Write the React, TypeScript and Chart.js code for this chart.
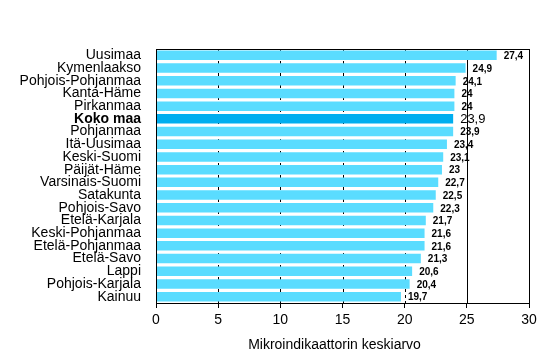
import React, { useEffect, useRef } from "react";
import { Chart, registerables } from "chart.js";

Chart.register(...registerables);

const categories = [
  "Uusimaa", "Kymenlaakso", "Pohjois-Pohjanmaa", "Kanta-Häme", "Pirkanmaa",
  "Koko maa", "Pohjanmaa", "Itä-Uusimaa", "Keski-Suomi", "Päijät-Häme",
  "Varsinais-Suomi", "Satakunta", "Pohjois-Savo", "Etelä-Karjala", "Keski-Pohjanmaa",
  "Etelä-Pohjanmaa", "Etelä-Savo", "Lappi", "Pohjois-Karjala", "Kainuu",
];
const values = [27.4, 24.9, 24.1, 24, 24, 23.9, 23.9, 23.4, 23.1, 23, 22.7, 22.5, 22.3, 21.7, 21.6, 21.6, 21.3, 20.6, 20.4, 19.7];
const xTicks = [0, 5, 10, 15, 20, 25, 30];
const dashedGrid = [5, 10, 15, 20];
const solidGrid = [25];
const highlight = "Koko maa";
const axisTitle = "Mikroindikaattorin keskiarvo";

const FONT = "'Liberation Sans', Arial, sans-serif";
const fmt = (v: number) => String(v).replace(".", ",");

export default function App() {
  const ref = useRef<HTMLCanvasElement>(null);
  useEffect(() => {
    document.body.style.margin = "0";
    const ctx = ref.current!.getContext("2d")!;
    const overlay = {
      id: "overlay",
      beforeDatasetsDraw(chart: any) {
        const { ctx, chartArea } = chart;
        const xs = chart.scales.x;
        ctx.save();
        ctx.strokeStyle = "#000";
        ctx.lineWidth = 1;
        ctx.setLineDash([3, 3]);
        dashedGrid.forEach((v) => {
          const x = Math.round(xs.getPixelForValue(v)) + 0.5;
          ctx.beginPath();
          ctx.moveTo(x, chartArea.top);
          ctx.lineTo(x, chartArea.bottom);
          ctx.stroke();
        });
        ctx.setLineDash([]);
        solidGrid.forEach((v) => {
          const x = Math.round(xs.getPixelForValue(v)) + 0.5;
          ctx.beginPath();
          ctx.moveTo(x, chartArea.top);
          ctx.lineTo(x, chartArea.bottom);
          ctx.stroke();
        });
        ctx.restore();
      },
      afterDatasetsDraw(chart: any) {
        const { ctx, chartArea } = chart;
        ctx.save();
        ctx.strokeStyle = "#000";
        ctx.lineWidth = 1;
        ctx.strokeRect(
          Math.round(chartArea.left) + 0.5,
          Math.round(chartArea.top) + 0.5,
          Math.round(chartArea.right - chartArea.left),
          Math.round(chartArea.bottom - chartArea.top)
        );
        const meta = chart.getDatasetMeta(0);
        meta.data.forEach((bar: any, i: number) => {
          const isH = categories[i] === highlight;
          ctx.font = isH ? `13px ${FONT}` : `bold 10px ${FONT}`;
          ctx.fillStyle = "#000";
          ctx.textAlign = "left";
          ctx.textBaseline = "middle";
          ctx.fillText(fmt(values[i]), bar.x + 7, bar.y + 1);
        });
        ctx.font = `14px ${FONT}`;
        ctx.textAlign = "center";
        ctx.textBaseline = "middle";
        ctx.fillText(axisTitle, (chartArea.left + chartArea.right) / 2 - 8, 345);
        ctx.restore();
      },
    };
    const chart = new Chart(ctx, {
      type: "bar",
      data: {
        labels: categories,
        datasets: [
          {
            data: values,
            backgroundColor: categories.map((c) => (c === highlight ? "#00AEEF" : "#5ADCFF")),
            barPercentage: 0.75,
            categoryPercentage: 1,
          },
        ],
      },
      options: {
        indexAxis: "y",
        animation: false,
        responsive: false,
        layout: { padding: { left: 0, right: 24, top: 49, bottom: 0 } },
        plugins: { legend: { display: false }, tooltip: { enabled: false } },
        scales: {
          x: {
            min: 0,
            max: 30,
            afterBuildTicks: (s: any) => {
              s.ticks = xTicks.map((v) => ({ value: v }));
            },
            afterFit: (s: any) => {
              s.height = 52;
            },
            grid: { display: true, drawOnChartArea: false, drawTicks: true, tickLength: 5, color: "#000" },
            border: { display: true, color: "#000" },
            ticks: { color: "#000", font: { family: FONT, size: 14 }, padding: 4, maxRotation: 0 },
          },
          y: {
            afterFit: (s: any) => {
              s.width = 156;
            },
            grid: { display: false },
            border: { display: true, color: "#000" },
            ticks: {
              color: "#000",
              padding: 7,
              autoSkip: false,
              font: (c: any) =>
                categories[c.index] === highlight
                  ? { family: FONT, size: 14, weight: "bold", lineHeight: 1 }
                  : { family: FONT, size: 14, lineHeight: 1 },
            },
          },
        },
      },
      plugins: [overlay],
    } as any);
    return () => chart.destroy();
  }, []);
  return (
    <div style={{ width: 553, height: 355 }}>
      <canvas ref={ref} width={553} height={355} />
    </div>
  );
}
